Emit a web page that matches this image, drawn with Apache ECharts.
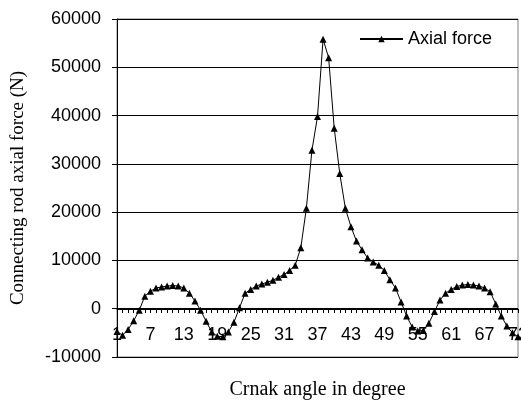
<!DOCTYPE html>
<html>
<head>
<meta charset="utf-8">
<script src="https://cdn.jsdelivr.net/npm/echarts@6/dist/echarts.min.js"></script>
<style>
  html, body { margin: 0; padding: 0; background: #fff; }
  #main { width: 521px; height: 403px; }
</style>
</head>
<body>
<div id="main"></div>
<script>
// crank angle categories (1..73)
var angles = [
  '1', '2', '3', '4', '5', '6', '7', '8', '9', '10',
  '11', '12', '13', '14', '15', '16', '17', '18', '19', '20',
  '21', '22', '23', '24', '25', '26', '27', '28', '29', '30',
  '31', '32', '33', '34', '35', '36', '37', '38', '39', '40',
  '41', '42', '43', '44', '45', '46', '47', '48', '49', '50',
  '51', '52', '53', '54', '55', '56', '57', '58', '59', '60',
  '61', '62', '63', '64', '65', '66', '67', '68', '69', '70',
  '71', '72', '73'
];

// axial force (N)
var axialForce = [
  -4700, -5500, -4300, -2500, -300, 2600, 3600, 4300, 4500, 4700,
  4800, 4700, 4300, 3200, 1600, -300, -2600, -4800, -5700, -5800,
  -4800, -2800, 200, 3200, 4000, 4700, 5100, 5500, 5900, 6500,
  7100, 7900, 9000, 12600, 20800, 32800, 39800, 55800, 52000, 37400,
  28000, 20800, 17000, 14000, 12200, 10500, 9700, 9000, 7900, 6000,
  4300, 1400, -1500, -3800, -4600, -4500, -3000, -600, 1800, 3200,
  4000, 4600, 4900, 5000, 4900, 4700, 4300, 3500, 1000, -1500,
  -3600, -5000, -5800
];

// y axis ticks
var yMin = -10000;
var yMax = 60000;
var yStep = 10000;

var chart = echarts.init(document.getElementById('main'));

var option = {
  animation: false,
  backgroundColor: '#fff',
  grid: {
    left: 117,
    top: 19,
    right: 3,
    bottom: 46,
    outerBoundsMode: 'none',
    containLabel: false,
    show: true,
    borderColor: '#808080',
    borderWidth: 1
  },
  legend: {
    left: 359,
    top: 30,
    padding: 0,
    itemWidth: 43,
    itemHeight: 8,
    itemGap: 4,
    data: ['Axial force'],
    textStyle: {
      fontFamily: 'Liberation Sans',
      fontSize: 18,
      color: '#000'
    }
  },
  xAxis: {
    type: 'category',
    data: angles,
    boundaryGap: false,
    position: 'bottom',
    // axis drawn at y = 0 (48px above the plot bottom)
    offset: -48,
    name: 'Crnak angle in degree',
    nameLocation: 'middle',
    nameGap: 71,
    nameTextStyle: {
      fontFamily: 'Liberation Serif',
      fontSize: 20,
      color: '#000'
    },
    axisLine: { onZero: false, lineStyle: { color: '#000', width: 1 } },
    axisTick: { interval: 0, length: 4, lineStyle: { color: '#000' } },
    axisLabel: {
      interval: 5,
      margin: 17,
      fontFamily: 'Liberation Sans',
      fontSize: 18,
      color: '#000'
    },
    splitLine: { show: false }
  },
  yAxis: {
    type: 'value',
    min: yMin,
    max: yMax,
    interval: yStep,
    name: 'Connecting rod axial force (N)',
    nameLocation: 'middle',
    nameGap: 89,
    nameTextStyle: {
      fontFamily: 'Liberation Serif',
      fontSize: 19,
      color: '#000'
    },
    axisLine: { show: true, lineStyle: { color: '#000', width: 1 } },
    axisTick: { show: true, length: 5, lineStyle: { color: '#000' } },
    axisLabel: {
      margin: 16,
      formatter: function (v) { return String(v); },
      fontFamily: 'Liberation Sans',
      fontSize: 18,
      color: '#000'
    },
    splitLine: { lineStyle: { color: '#000', width: 1 } }
  },
  series: [
    {
      name: 'Axial force',
      type: 'line',
      data: axialForce,
      symbol: 'triangle',
      symbolSize: 7,
      showAllSymbol: true,
      lineStyle: { color: '#000', width: 1 },
      itemStyle: { color: '#000' }
    }
  ]
};

chart.setOption(option);
</script>
</body>
</html>
